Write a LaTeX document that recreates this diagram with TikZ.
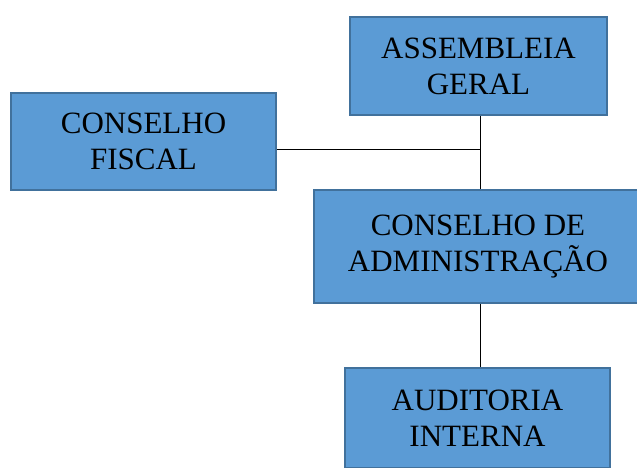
\documentclass[tikz,border=0pt]{standalone}
\usepackage{fontspec}
\setmainfont{Liberation Serif}
\definecolor{boxfill}{HTML}{5B9BD5}
\definecolor{boxline}{HTML}{41719C}
\begin{document}
\begin{tikzpicture}[x=1pt,y=1pt,
  orgbox/.style={draw=boxline,fill=boxfill,line width=2pt,rectangle,align=center,
    font=\fontsize{31}{36}\selectfont,inner sep=0pt},
  conn/.style={draw=black,line width=1pt}]
\useasboundingbox (0,0) rectangle (637,467);
\begin{scope}
\clip (0,0) rectangle (637,467);
\node[orgbox,minimum width=257pt,minimum height=98pt] (asm) at (478.5,401) {ASSEMBLEIA\\GERAL};
\node[orgbox,minimum width=265pt,minimum height=97pt] (fis) at (143.5,325.5) {CONSELHO\\FISCAL};
\node[orgbox,minimum width=328pt,minimum height=113pt] (adm) at (478,220.5) {CONSELHO DE\\ADMINISTRAÇÃO};
\node[orgbox,minimum width=265pt,minimum height=100pt] (aud) at (477.5,49) {AUDITORIA\\INTERNA};
\coordinate (j) at (480,318);
\draw[conn] (asm.south -| j) -- (adm.north -| j);
\draw[conn] (fis.east |- j) -- (j);
\draw[conn] (adm.south -| j) -- (aud.north -| j);
\end{scope}
\end{tikzpicture}
\end{document}
